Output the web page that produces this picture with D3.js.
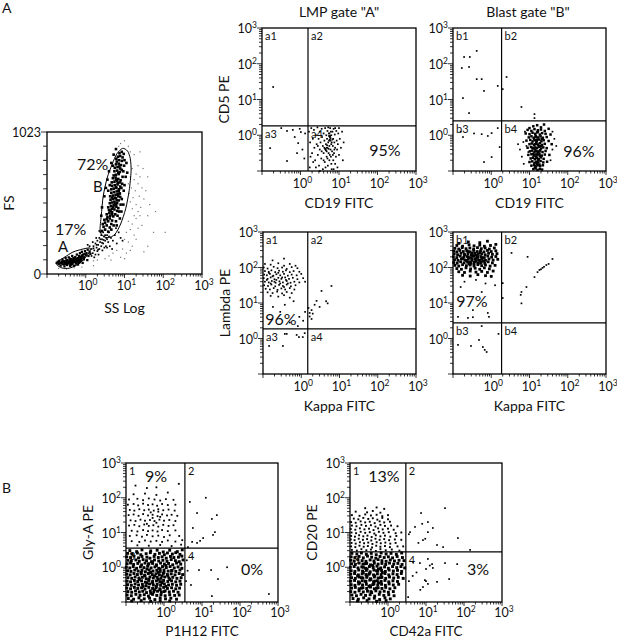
<!DOCTYPE html>
<html>
<head>
<meta charset="utf-8">
<script src="https://cdn.jsdelivr.net/npm/d3@7"></script>
<style>
  body { margin: 0; background: #fff; }
  text { font-family: Lato, "Noto Sans", sans-serif; fill: #111; }
</style>
</head>
<body>
<svg id="fig" width="617" height="640"></svg>
<script>
// ---- data: log10 values x100 (FS in channels) ----

// FS / SS log plot
const ssfsGateA = [-75,80, -70,72, -68,95, -65,60, -62,85, -60,105, -58,70, -55,92, -55,55, -52,115, -50,80, -48,65, -47,100, -45,88, -44,120, -42,75, -40,58, -40,95, -38,108, -37,83, -35,70, -35,130, -33,92, -32,115, -30,60, -30,100, -28,85, -27,122, -25,75, -25,105, -23,140, -22,92, -20,68, -20,115, -18,100, -17,130, -15,85, -15,150, -13,110, -12,95, -10,125, -10,160, -8,80, -7,140, -5,105, -4,120, -2,165, 0,135, 2,150, 4,100, 5,175, 7,130, 10,160, 12,145, -62,75, -57,88, -53,72, -50,98, -46,78, -43,90, -41,110, -39,68, -36,95, -34,80, -31,88, -29,110, -26,95, -24,88, -21,102, -19,80, -16,118, -14,98, -11,108, -9,135, -6,118, -3,145, -72,88, -66,78, -60,92, -54,82, -49,90, -44,84, -38,78, -33,100, -28,96, -23,110, -18,90, -13,124];
const ssfsBridge = [15,180, 18,150, 20,200, 22,170, 25,220, 25,140, 28,190, 30,240, 30,165, 32,210, 35,260, 35,180, 37,230, 40,280, 40,200, 42,250, 45,300, 45,220, 47,270, 50,240, 50,320, 52,200, 55,280, 18,230, 22,120, 27,260, 33,140, 38,300, 43,170, 48,190, 53,260, 58,230, 60,300, 62,200, 65,260, 70,240, 75,280, 80,220, 85,300, 90,260, 15,130, 10,200, 5,210, 35,310, 55,190, 68,180, 78,330, 95,240, 20,185, 28,210, 32,175, 38,250, 42,225, 46,245, 50,280, 55,250, 60,270];
const ssfsGateB = [42,310, 50,320, 58,305, 46,340, 54,350, 62,335, 50,370, 58,380, 66,360, 44,360, 54,395, 62,400, 68,385, 48,390,
  56,410, 63,420, 71,415, 54,430, 61,440, 68,445, 76,430, 60,460, 67,470, 74,465, 81,455, 58,480, 65,490, 72,495, 79,485, 84,475, 68,430, 64,455, 71,480, 78,500,
  62,510, 68,515, 74,520, 81,510, 64,535, 71,540, 78,545, 85,530, 63,560, 70,565, 77,570, 84,560, 89,555, 66,585, 73,590, 80,595, 87,580, 75,505, 80,530, 82,575, 75,550, 68,550, 85,600,
  66,610, 72,615, 79,620, 86,610, 68,635, 75,640, 82,645, 89,630, 67,660, 74,665, 81,670, 88,660, 70,690, 77,695, 84,685, 90,675, 78,625, 83,655, 78,680,
  72,710, 78,715, 85,720, 74,740, 81,745, 88,735, 75,765, 82,770, 89,760, 93,750, 78,790, 85,795, 91,785, 84,730, 87,775,
  80,810, 86,820, 93,815, 83,845, 89,850, 95,840, 87,870, 93,880, 98,865, 79,830,
  40,420, 42,480, 48,560, 52,620, 56,680, 60,740, 66,800, 72,860, 78,900, 62,640, 58,600, 70,780, 88,580, 92,620, 94,650, 95,700, 97,740, 99,780, 100,820, 105,800, 98,600, 100,640, 103,700, 107,730, 93,540, 90,500, 86,450, 82,420, 78,380, 72,350, 66,320, 80,350, 88,400, 92,450, 97,500];
const ssfsHalo = [110,650, 115,700, 120,760, 112,580, 118,620, 125,680, 130,720, 115,520, 122,550, 128,600, 135,650, 140,700, 120,470, 130,500, 138,560, 145,620, 125,420, 135,450, 142,480, 150,540, 155,600, 110,380, 120,360, 130,400, 140,420, 105,300, 115,320, 125,280, 135,330, 100,250, 110,230, 120,200, 95,180, 105,150, 115,170, 130,250, 145,350, 160,420, 165,500, 175,300, 160,200, 150,160, 180,450, 205,300, 125,860, 110,920, 100,960, 90,940, 85,920, 115,880, 135,780, 148,760, 140,880, 160,700,
  60,130, 70,150, 80,170, 90,120, 100,110, 50,110, 30,100, 20,95, 65,100, -70,40, -50,35, -30,45, -10,50, 20,60];
const ssfsGateAOutline = [-74,86, -54,122, -33,158, -7,180, 11,187, 8,151, -15,79, -41,43, -61,43, -74,65];
const ssfsGateBOutline = [37,317, 40,420, 45,560, 55,690, 68,790, 80,865, 95,905, 108,885, 115,830, 117,740, 112,600, 103,470, 90,360, 75,285, 58,262, 44,275];
const fsTickLabels = ["0", "1023"];
const gateLabels = ["72%", "B", "17%", "A"];

// CD5 PE vs CD19 FITC, LMP gate A
const cd5GateA = [-71,135,
  -35,12, 1,9, -6,-22, -9,-50, -35,-72, -79,-36, -20,15, -15,-5, 5,-40, -50,20, 10,-65, -2,18, 12,5,
  22,10, 25,-20, 28,20, 30,-50, 32,-10, 35,15, 36,-35, 38,-70, 40,0, 42,-25, 44,22, 45,-55, 47,-10, 48,-85, 50,10, 50,-40, 52,-20, 54,-65, 55,18, 56,-5, 58,-30, 58,-95, 60,-50, 60,5, 62,-15, 63,-75, 64,20, 65,-40, 66,-25, 67,0, 68,-60, 69,-10, 70,-35, 70,12, 71,-85, 72,-20, 73,-50, 74,5, 75,-30, 75,-70, 76,-5, 77,20, 78,-40, 78,-15, 79,-60, 80,0, 80,-25, 81,-95, 82,-45, 83,10, 84,-30, 85,-10, 85,-70, 86,18, 87,-50, 88,-20, 89,2, 90,-35, 90,-80, 92,-60, 93,12, 94,-15, 95,-40, 97,-25, 98,5, 100,-55, 102,-10, 105,-35, 108,10, 110,-70, 112,-20, 65,-90, 72,22, 76,-55, 80,-80, 68,-45, 74,-15, 79,10, 84,-55, 70,-65, 62,-35, 88,-40, 55,-45, 60,-70, 45,-30, 40,-90, 33,-75, 26,-60, 24,-90, 96,-90, 100,20, 90,20, 50,-100, 86,-95, 77,-2, 73,-38, 81,-20, 69,-28, 75,5, 83,-12, 78,-8, 76,-12, 74,-2, 66,-42, 64,-38, 68,-35];

// CD5 PE vs CD19 FITC, blast gate B
const cd5GateBSparse = [-38,236, -71,219, -56,219, -77,188, -58,191, -38,157, -25,157, -19,124, 17,138, -74,104, -58,62,
  30,129, 40,163, 79,79, 113,59, 113,48,
  -74,-5, -25,3, -9,-2, 1,6, 17,20, 22,-33, 1,-61, -19,-75, -80,10, -45,5,
  92,-30, 97,-47, 84,-19, 75,-40, 80,-60, 70,-25, 88,10, 85,-80, 160,-40, 165,-10, 155,-70, 160,10, 170,-30];
const cd5GateBCluster = [110,25, 120,28, 130,22, 100,20, 138,30,
  95,15, 105,12, 113,17, 122,14, 130,16, 140,12, 150,18,
  90,5, 100,3, 108,7, 115,4, 120,8, 127,2, 133,6, 142,4, 155,2,
  98,-6, 105,-3, 111,-7, 117,-4, 123,-6, 129,-3, 135,-7, 145,-5,
  92,-15, 102,-13, 108,-17, 114,-14, 119,-16, 125,-12, 131,-17, 137,-14, 150,-16,
  100,-25, 106,-23, 112,-27, 117,-24, 122,-26, 127,-22, 133,-27, 140,-24, 158,-25,
  95,-35, 104,-33, 110,-37, 115,-34, 120,-36, 125,-32, 130,-37, 136,-34, 145,-36,
  101,-45, 107,-43, 113,-47, 118,-44, 123,-46, 128,-42, 134,-47, 142,-44,
  97,-55, 105,-53, 111,-57, 116,-54, 121,-56, 126,-52, 132,-57, 140,-54, 152,-55,
  103,-65, 109,-63, 114,-67, 119,-64, 124,-66, 130,-62, 137,-66,
  100,-75, 107,-73, 113,-77, 118,-74, 123,-76, 129,-72, 136,-76, 146,-74,
  105,-85, 112,-83, 117,-87, 122,-84, 128,-86, 135,-84,
  110,-95, 116,-93, 121,-97, 127,-94, 133,-96,
  112,-10, 118,-20, 124,-30, 115,-40, 121,-50, 117,-60, 123,-70, 119,-80, 114,-25, 126,-45, 120,-12, 116,-2, 122,10, 128,-58, 110,-52, 126,-82, 114,-90, 130,-30, 108,-35, 132,-10];

// Lambda PE vs Kappa FITC, LMP gate A
const lamGateACluster = [-45,225, -75,220,
  -95,210, -80,208, -60,212, -45,205, -30,210, -15,205,
  -98,200, -88,197, -72,202, -62,198, -50,200, -38,196, -25,201, -10,198,
  -95,190, -85,188, -78,192, -68,187, -58,191, -48,188, -40,192, -30,187, -20,190, -5,188,
  -97,180, -90,178, -82,182, -73,177, -65,181, -55,178, -45,182, -35,177, -25,180, -12,178, 0,182,
  -98,170, -88,168, -80,172, -70,167, -60,171, -52,168, -42,172, -32,168, -22,171, -10,167, 5,170,
  -95,160, -85,158, -77,162, -67,157, -57,161, -48,158, -38,162, -28,157, -18,160, -5,158, 10,160,
  -97,150, -87,148, -78,152, -68,147, -58,151, -48,148, -38,152, -27,147, -15,150,
  -93,140, -82,138, -72,142, -62,137, -52,141, -42,138, -30,142, -18,138,
  -88,130, -75,128, -63,132, -50,127, -38,131, -25,128,
  -80,120, -60,118, -45,122, -30,115,
  -75,175, -65,165, -55,155, -70,160, -60,185, -40,165, -50,172, -80,155, -35,155, -45,145, -90,165, -85,185];
const lamGateASparse = [-74,89, -43,95, -20,105, -5,61, -9,35, -55,75, 5,50, 10,75, -30,45,
  53,134, 79,148, 40,106, 48,89, 69,99, 65,105, 19,86, 27,80, 22,72, 27,55, 35,95, 22,62, 30,70,
  -43,13, -38,13, -12,10, -6,4, 4,4, 9,15, -84,-21, -48,-21];

// Lambda PE vs Kappa FITC, blast gate B
const lamGateBCluster = [-60,272, -30,270, -10,274, -85,268,
  -90,262, -75,260, -58,264, -45,261, -30,263, -18,260, -2,262, 12,265,
  -95,254, -85,252, -76,256, -66,253, -56,255, -46,252, -36,256, -26,253, -16,255, -5,252, 8,255,
  -98,246, -90,244, -82,248, -73,245, -64,247, -55,244, -46,248, -37,245, -28,247, -19,244, -10,248, 0,245, 12,247,
  -97,238, -88,236, -79,240, -70,237, -61,239, -52,236, -43,240, -34,237, -25,239, -16,236, -7,240, 3,237, 15,239,
  -99,230, -90,228, -81,232, -72,229, -63,231, -54,228, -45,232, -36,229, -27,231, -18,228, -9,232, 1,229, 12,231,
  -96,222, -87,220, -78,224, -69,221, -60,223, -51,220, -42,224, -33,221, -24,223, -15,220, -6,224, 5,221, 17,223,
  -98,214, -89,212, -80,216, -71,213, -62,215, -53,212, -44,216, -35,213, -26,215, -17,212, -8,216, 3,213,
  -95,206, -85,204, -75,208, -65,205, -55,207, -45,204, -35,208, -25,205, -15,207, -3,204, 10,206,
  -90,197, -78,195, -66,199, -54,196, -42,198, -30,195, -18,199, -5,196,
  -85,188, -70,186, -55,190, -40,187, -25,189, -10,186, 5,190,
  -75,178, -55,176, -35,180, -15,177, 0,175,
  -60,230, -50,225, -40,235, -30,220, -55,215, -45,210, -35,230, -25,228, -65,220, -70,235, -40,218, -50,240, -20,218, -30,242, -60,245, -75,225, -38,226, -48,233, -58,210, -28,212];
const lamGateBSparse = [-25,131, -48,80, -87,61, -61,58, -48,60, -6,61, -9,72, -70,160, -40,165, -15,155, 10,150, -80,145,
  53,241, 95,230, 160,224, 144,207, 134,199, 126,193, 121,187, 113,173, 92,145, 79,131, 77,123, 79,99, 30,156, 30,114, 138,202, 150,210, 130,195,
  -25,35, -32,-4, -87,-18, -53,-21, -22,-24, -17,-32, -12,-38, 19,13];

// Gly-A PE vs P1H12 FITC
const glyCluster1 = [-80,210, -50,212, -20,208, 10,215,
  -92,195, -70,197, -55,193, -40,198, -25,195, -10,192, 5,196, 25,194,
  -95,180, -80,182, -68,178, -55,183, -42,179, -30,181, -18,177, -5,182, 10,179, 30,180,
  -90,165, -78,163, -65,167, -52,164, -40,166, -27,163, -15,167, -2,164, 12,166, 28,163,
  -93,150, -80,152, -67,148, -55,153, -42,149, -30,151, -17,147, -5,152, 8,149, 20,151, 35,148,
  -88,135, -75,133, -62,137, -50,134, -37,136, -25,133, -12,137, 0,134, 14,136, 30,133,
  -92,120, -78,122, -65,118, -52,123, -40,119, -28,121, -15,117, -2,122, 12,119, 25,121,
  -85,105, -70,103, -55,107, -42,104, -30,106, -17,103, -5,107, 10,104, 30,106,
  -90,90, -72,92, -58,88, -45,93, -30,89, -15,91, 0,87, 15,92, 40,90,
  -85,75, -65,73, -50,77, -35,74, -20,76, -5,73, 10,77, 30,74, 48,78,
  -70,63, -40,62, -10,64, 20,61, 45,65,
  -30,142, -20,128, -35,158, -10,145, -45,125, -15,160,
  -45,228, 39,240, -20,230, -75,235];
const glyCluster3 = [-90,48, -72,45, -58,50, -35,47, -18,49, -2,44, 15,49, 35,45, 48,50,
  -96,40, -84,38, -70,41, -61,36, -47,39, -36,42, -24,37, -12,40, 1,36, 9,41, 22,38, 31,42, 42,37,
  -98,30, -88,28, -79,32, -67,27, -58,31, -45,29, -37,26, -26,31, -15,28, -5,30, 6,26, 17,31, 26,28, 38,29, 47,32,
  -95,20, -86,18, -74,21, -65,17, -55,22, -46,19, -33,16, -25,21, -14,18, -3,20, 8,17, 19,22, 30,19, 40,16, 50,21,
  -97,10, -88,12, -80,8, -69,11, -59,7, -50,12, -41,9, -30,11, -20,7, -9,12, 1,9, 12,11, 23,7, 33,12, 44,9,
  -99,0, -90,-2, -81,2, -72,-3, -62,1, -53,-1, -43,3, -34,-2, -24,1, -14,-3, -4,2, 6,-1, 16,2, 27,-2, 37,1, 47,-3,
  -96,-10, -87,-12, -77,-8, -68,-11, -58,-9, -49,-13, -39,-8, -29,-11, -19,-9, -10,-12, 0,-8, 11,-11, 21,-9, 31,-12, 42,-8,
  -98,-20, -89,-22, -79,-18, -70,-21, -60,-19, -51,-23, -41,-18, -31,-21, -21,-19, -12,-22, -2,-18, 9,-21, 19,-19, 29,-22, 40,-18, 49,-21,
  -95,-30, -85,-32, -76,-28, -66,-31, -57,-29, -47,-33, -37,-28, -28,-31, -18,-29, -8,-32, 2,-28, 13,-31, 23,-29, 34,-32, 45,-30,
  -97,-40, -88,-42, -78,-38, -69,-41, -59,-39, -49,-43, -40,-38, -30,-41, -20,-39, -11,-42, -1,-38, 10,-41, 20,-39, 31,-42, 42,-40,
  -96,-50, -86,-52, -76,-48, -67,-51, -57,-49, -47,-53, -38,-48, -28,-51, -18,-49, -9,-52, 1,-48, 12,-51, 22,-49, 33,-52, 44,-49,
  -98,-60, -88,-62, -78,-58, -69,-61, -59,-59, -50,-63, -40,-58, -30,-61, -21,-59, -11,-62, -1,-58, 9,-61, 20,-59, 31,-62, 41,-60,
  -95,-70, -85,-72, -75,-68, -65,-71, -56,-69, -46,-73, -36,-68, -27,-71, -17,-69, -7,-72, 3,-68, 14,-71, 25,-69, 37,-72,
  -97,-80, -86,-82, -74,-78, -63,-81, -52,-79, -41,-83, -30,-78, -19,-81, -8,-79, 3,-82, 15,-79, 28,-81, 40,-80,
  -94,-90, -80,-92, -66,-88, -52,-91, -38,-89, -24,-93, -10,-88, 4,-91, 18,-89, 33,-92,
  -85,-97, -60,-96, -35,-98, -10,-96, 15,-97,
  -45,-5, -35,-15, -25,-25, -15,-35, -5,-45, 5,-55, -40,-35, -30,-45, -20,-55, -10,-5, 0,-15, 10,-25, -50,-25, -20,5, -30,15, -10,-65, -55,-55, -45,-45, -5,-25, 5,5, -60,-15, -25,-65, 15,-35, -35,-75, -15,-15, -65,-35, 0,-70, 20,-10, -40,10, -8,-42];
const glySparse = [68,188, 110,200, 87,156, 139,150, 126,139, 76,113, 134,101, 129,93, 103,84, 95,76, 87,70, 74,73, 63,58,
  74,29, 92,-8, 124,-8, 166,0, 142,-34, 71,-51, 126,-83, 276,-77, 60,20, 62,-10, 58,-40];

// CD20 PE vs CD42a FITC
const cd20Cluster1 = [-60,170, -30,172, -10,168,
  -85,160, -55,158, -40,162, -20,157,
  -95,150, -75,148, -60,152, -45,149, -30,151, -15,147, 0,150,
  -90,140, -78,138, -65,142, -52,139, -40,141, -28,137, -15,142, 0,138,
  -97,130, -85,128, -72,132, -60,129, -48,131, -35,127, -22,132, -10,129, 5,131,
  -95,120, -83,118, -70,122, -58,119, -45,121, -33,117, -20,122, -8,119, 8,120, 25,118,
  -98,110, -86,108, -74,112, -62,109, -50,111, -38,107, -26,112, -14,109, 0,111, 15,108,
  -96,100, -84,98, -72,102, -60,99, -48,101, -36,97, -24,102, -12,99, 2,101, 20,98, 35,100,
  -97,90, -87,88, -76,92, -65,89, -54,91, -43,87, -32,92, -20,89, -8,91, 6,88, 22,90,
  -98,80, -88,78, -77,82, -66,79, -55,81, -44,77, -33,82, -22,79, -10,81, 3,78, 18,80, 35,79,
  -96,70, -85,68, -74,72, -63,69, -52,71, -41,67, -30,72, -19,69, -7,71, 6,68, 20,70,
  -97,60, -86,58, -75,62, -64,59, -53,61, -42,57, -31,62, -20,59, -8,61, 5,58, 25,60, 40,60,
  -95,50, -82,48, -70,52, -57,49, -45,51, -32,47, -20,52, -6,49, 10,51, 30,48];
const cd20Cluster3 = [-95,40, -82,38, -70,41, -57,37, -44,40, -31,36, -18,41, -5,38, 8,40, 22,37, 36,41,
  -97,30, -87,28, -76,31, -65,27, -54,32, -43,29, -32,26, -21,31, -10,28, 1,30, 12,27, 24,31, 38,28,
  -98,20, -89,18, -79,22, -68,19, -58,17, -47,21, -37,18, -26,22, -16,19, -5,17, 6,21, 17,18, 29,20, 42,19,
  -96,10, -86,8, -76,12, -66,9, -56,11, -46,7, -36,12, -26,9, -16,11, -6,8, 4,12, 15,9, 26,11, 37,8,
  -99,0, -89,2, -79,-2, -69,1, -59,-3, -49,2, -39,-1, -29,3, -19,-2, -9,1, 1,-3, 12,2, 23,-1, 34,2, 44,-2,
  -97,-10, -87,-12, -77,-8, -67,-11, -57,-9, -47,-13, -37,-8, -27,-11, -17,-9, -7,-12, 3,-8, 14,-11, 25,-9, 36,-12,
  -98,-20, -88,-18, -78,-22, -68,-19, -58,-21, -48,-17, -38,-22, -28,-19, -18,-21, -8,-18, 2,-22, 13,-19, 24,-21, 35,-18,
  -96,-30, -86,-32, -76,-28, -66,-31, -56,-29, -46,-33, -36,-28, -26,-31, -16,-29, -6,-32, 4,-28, 15,-31, 27,-29, 40,-32,
  -98,-40, -88,-38, -78,-42, -68,-39, -58,-41, -48,-37, -38,-42, -28,-39, -18,-41, -8,-38, 2,-42, 13,-39, 25,-41,
  -97,-50, -87,-52, -77,-48, -67,-51, -57,-49, -47,-53, -37,-48, -27,-51, -17,-49, -7,-52, 3,-48, 14,-51, 28,-49,
  -96,-60, -86,-58, -76,-62, -66,-59, -56,-61, -46,-57, -36,-62, -26,-59, -16,-61, -6,-58, 5,-62, 18,-59,
  -98,-70, -87,-72, -76,-68, -65,-71, -54,-69, -43,-73, -32,-68, -21,-71, -10,-69, 1,-72, 14,-70,
  -95,-80, -83,-82, -71,-78, -59,-81, -47,-79, -35,-83, -23,-78, -11,-81, 2,-79, 16,-82,
  -92,-90, -78,-92, -64,-88, -50,-91, -36,-89, -22,-93, -8,-88, 6,-91,
  -80,-97, -55,-96, -30,-98, -5,-96,
  -70,-30, -60,-40, -50,-20, -40,-50, -30,-10, -55,-5, -45,-35, -35,-25, -65,-15, -25,-45, -75,-45, -50,-55, -40,5, -60,10, -30,-60, -20,-30, -70,-60, -45,-70, -55,-25, -35,-40, -65,0, -15,-15, -80,-25, -25,-5];
const cd20Sparse = [87,156, 150,170, 105,130, 90,125, 118,113, 71,116, 105,101, 92,78, 98,82, 129,64, 145,58, 184,84, 216,50, 80,70, 58,101, 55,95,
  66,15, 84,12, 105,24, 116,9, 118,-2, 100,-5, 110,5, 150,12, 182,9, 97,-37, 105,-48, 92,-57, 100,-40, 129,-42, 161,-34, 75,-15, 65,-25, 55,-40, 53,-86, 85,-65];

// quadrant markers (log10 of the cut) and labels
const quadCutX = [0.195, 0.27, 0.17, 0.27, 0.55, 0.47];
const quadCutY = [0.26, 0.40, 0.27, 0.44, 0.55, 0.44];
const quadNamesA = ["a1", "a2", "a3", "a4"];
const quadNamesB = ["b1", "b2", "b3", "b4"];
const quadNamesN = ["1", "2", "3", "4"];
const logExponents = [0, 1, 2, 3];

// ---- drawing ----
const svg = d3.select("#fig");
const pairs = (a, sy = 100) => d3.range(0, a.length, 2).map(i => [a[i] / 100, a[i + 1] / sy]);

function dots(g, data, fx, fy, size, fill) {
  g.append("g").selectAll("rect").data(data).join("rect")
    .attr("x", d => fx(d[0]) - size / 2)
    .attr("y", d => fy(d[1]) - size / 2)
    .attr("width", size).attr("height", size)
    .attr("fill", fill);
}

function logTickValues() {
  const v = [];
  for (let k = -1; k < 3; k++) for (let m = 1; m < 10; m++) v.push({v: m * 10 ** k, major: m === 1});
  v.push({v: 1000, major: true});
  return v;
}

function bottomLogAxis(g, x, y0, labelGap) {
  g.append("g").selectAll("line").data(logTickValues()).join("line")
    .attr("x1", d => x(d.v)).attr("x2", d => x(d.v))
    .attr("y1", y0).attr("y2", d => y0 + (d.major ? 4 : 2.5))
    .attr("stroke", "#000").attr("stroke-width", 0.8);
  logExponents.forEach(k => {
    const t = g.append("text").attr("x", x(10 ** k) + 2).attr("y", y0 + labelGap)
      .attr("text-anchor", "middle").attr("font-size", 12.5);
    t.append("tspan").text("10");
    t.append("tspan").attr("dy", -5).attr("font-size", 8.5).text(k);
  });
}

function leftLogAxis(g, y, x0) {
  g.append("g").selectAll("line").data(logTickValues()).join("line")
    .attr("y1", d => y(d.v)).attr("y2", d => y(d.v))
    .attr("x1", x0).attr("x2", d => x0 - (d.major ? 5 : 3))
    .attr("stroke", "#000").attr("stroke-width", 0.8);
  logExponents.forEach(k => {
    const t = g.append("text").attr("x", x0 - 5).attr("y", y(10 ** k) + 5)
      .attr("text-anchor", "end").attr("font-size", 12.5);
    t.append("tspan").text("10");
    t.append("tspan").attr("dy", -5).attr("font-size", 8.5).text(k);
  });
}

function quadPanel(p, i) {
  const x = d3.scaleLog().domain([0.1, 1000]).range([p.left, p.left + p.w]);
  const y = d3.scaleLog().domain([0.1, 1000]).range([p.top + p.h, p.top]);
  const fx = v => x(10 ** v), fy = v => y(10 ** v);
  const g = svg.append("g");
  p.sets.forEach(s => dots(g, pairs(s[0]), fx, fy, s[1], "#000"));

  const qx = fx(quadCutX[i]), qy = fy(quadCutY[i]);
  g.append("line").attr("x1", qx).attr("x2", qx).attr("y1", p.top).attr("y2", p.top + p.h)
    .attr("stroke", "#000").attr("stroke-width", 1.2);
  g.append("line").attr("x1", p.left).attr("x2", p.left + p.w).attr("y1", qy).attr("y2", qy)
    .attr("stroke", "#000").attr("stroke-width", 1.2);
  g.append("rect").attr("x", p.left).attr("y", p.top).attr("width", p.w).attr("height", p.h)
    .attr("fill", "none").attr("stroke", "#000").attr("stroke-width", 1.3);

  const bottomRow = p.top + p.h > 600;
  bottomLogAxis(g, x, p.top + p.h, bottomRow ? 15 : 17);
  leftLogAxis(g, y, p.left);

  const qpos = [[p.left + 3, p.top + 12], [qx + 3, p.top + 12], [p.left + 3, qy + 12], [qx + 3, qy + 12]];
  p.names.forEach((n, j) => g.append("text").attr("x", qpos[j][0]).attr("y", qpos[j][1])
    .attr("font-size", 11).text(n));

  p.pct.forEach(t => g.append("text").attr("x", p.left + t[1]).attr("y", p.top + t[2])
    .attr("text-anchor", "middle").attr("font-size", 16).text(t[0]));

  g.append("text").attr("x", p.left + p.w / 2).attr("y", bottomRow ? 636 : p.top + p.h + 37)
    .attr("text-anchor", "middle").attr("font-size", bottomRow ? 13.5 : 14).text(p.xTitle);
  if (p.yTitle) g.append("text").attr("transform", `translate(${p.left - 33},${p.top + p.h / 2})rotate(-90)`)
    .attr("text-anchor", "middle").attr("font-size", 14).text(p.yTitle);
}

const panels = [
  {left: 262, top: 28, w: 154, h: 143, names: quadNamesA, xTitle: "CD19 FITC", yTitle: "CD5 PE",
   sets: [[cd5GateA, 1.7]], pct: [["95%", 123, 128]]},
  {left: 453, top: 28, w: 153, h: 143, names: quadNamesB, xTitle: "CD19 FITC", yTitle: "",
   sets: [[cd5GateBSparse, 1.7], [cd5GateBCluster, 2.5]], pct: [["96%", 126, 129]]},
  {left: 263, top: 232, w: 153, h: 142, names: quadNamesA, xTitle: "Kappa FITC", yTitle: "Lambda PE",
   sets: [[lamGateACluster, 1.7], [lamGateASparse, 1.7]], pct: [["96%", 18, 93]]},
  {left: 453, top: 232, w: 153, h: 142, names: quadNamesB, xTitle: "Kappa FITC", yTitle: "",
   sets: [[lamGateBCluster, 2.8], [lamGateBSparse, 1.7]], pct: [["97%", 19, 75]]},
  {left: 126, top: 463, w: 152, h: 139, names: quadNamesN, xTitle: "P1H12 FITC", yTitle: "Gly-A PE",
   sets: [[glyCluster1, 1.8], [glyCluster3, 2.9], [glySparse, 1.7]], pct: [["9%", 30, 19], ["0%", 126, 112]]},
  {left: 350, top: 463, w: 152, h: 139, names: quadNamesN, xTitle: "CD42a FITC", yTitle: "CD20 PE",
   sets: [[cd20Cluster1, 1.9], [cd20Cluster3, 2.9], [cd20Sparse, 1.7]], pct: [["13%", 34, 19], ["3%", 128, 112]]}
];
panels.forEach(quadPanel);

// FS vs SS log plot
(function () {
  const left = 47, top = 132, w = 155, h = 142;
  const x = d3.scaleLog().domain([0.1, 1000]).range([left, left + w]);
  const y = d3.scaleLinear().domain([0, 1023]).range([top + h, top]);
  const fx = v => x(10 ** v);
  const g = svg.append("g");
  dots(g, pairs(ssfsHalo, 1), fx, y, 1.2, "#777");
  dots(g, pairs(ssfsBridge, 1), fx, y, 1.7, "#000");
  dots(g, pairs(ssfsGateA, 1), fx, y, 2.3, "#000");
  dots(g, pairs(ssfsGateB, 1), fx, y, 2.6, "#000");

  const outline = d3.line().x(d => fx(d[0])).y(d => y(d[1])).curve(d3.curveCardinalClosed.tension(0.2));
  [ssfsGateAOutline, ssfsGateBOutline].forEach(o => g.append("path").attr("d", outline(pairs(o, 1)))
    .attr("fill", "none").attr("stroke", "#000").attr("stroke-width", 1));

  g.append("rect").attr("x", left).attr("y", top).attr("width", w).attr("height", h)
    .attr("fill", "none").attr("stroke", "#000").attr("stroke-width", 1.3);
  bottomLogAxis(g, x, top + h, 16);
  g.append("g").selectAll("line").data(d3.range(0, 11)).join("line")
    .attr("x1", left).attr("x2", d => left - (d % 10 === 0 ? 6 : 4))
    .attr("y1", d => y(d * 102.3)).attr("y2", d => y(d * 102.3))
    .attr("stroke", "#000").attr("stroke-width", 0.8);
  [0, 1023].forEach((v, j) => g.append("text").attr("x", left - 6).attr("y", y(v) + 5)
    .attr("text-anchor", "end").attr("font-size", 12.5).text(fsTickLabels[j]));

  const gl = [[77, 170, 16], [93, 192, 15], [55, 235, 16], [58, 252, 15]];
  gateLabels.forEach((t, j) => g.append("text").attr("x", gl[j][0]).attr("y", gl[j][1])
    .attr("font-size", gl[j][2]).text(t));

  g.append("text").attr("x", left + w / 2).attr("y", top + h + 39)
    .attr("text-anchor", "middle").attr("font-size", 14).text("SS Log");
  g.append("text").attr("transform", `translate(${left - 33},${top + h / 2})rotate(-90)`)
    .attr("text-anchor", "middle").attr("font-size", 14).text("FS");
})();

// headers and panel letters
svg.append("text").attr("x", 339).attr("y", 17).attr("text-anchor", "middle").attr("font-size", 14).text('LMP gate "A"');
svg.append("text").attr("x", 528).attr("y", 17).attr("text-anchor", "middle").attr("font-size", 14).text('Blast gate "B"');
svg.append("text").attr("x", 2).attr("y", 13).attr("font-size", 14).text("A");
svg.append("text").attr("x", 2).attr("y", 493).attr("font-size", 14).text("B");
</script>
</body>
</html>
